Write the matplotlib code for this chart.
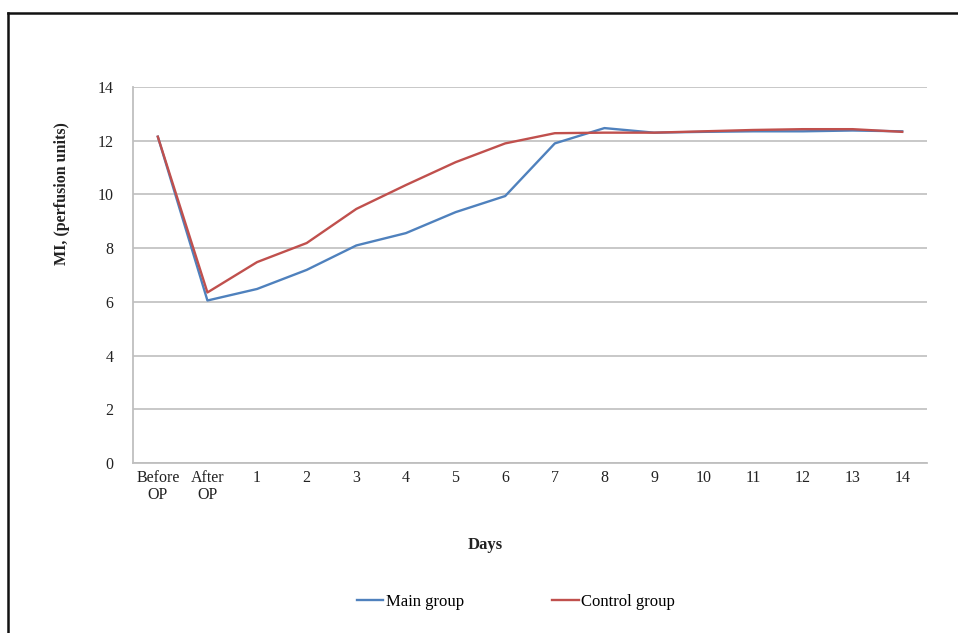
import matplotlib.pyplot as plt
from matplotlib.lines import Line2D

categories = ["Before\nOP", "After\nOP", "1", "2", "3", "4", "5", "6", "7",
              "8", "9", "10", "11", "12", "13", "14"]
main_group = [12.15, 6.05, 6.48, 7.19, 8.10, 8.56, 9.34, 9.94, 11.90,
              12.47, 12.30, 12.33, 12.35, 12.35, 12.38, 12.35]
control_group = [12.15, 6.35, 7.48, 8.19, 9.46, 10.35, 11.20, 11.90, 12.28,
                 12.30, 12.30, 12.35, 12.40, 12.43, 12.43, 12.33]
y_ticks = [0, 2, 4, 6, 8, 10, 12, 14]

plt.rcParams["font.family"] = ["Liberation Serif", "DejaVu Serif"]

W, H = 958, 633
fig = plt.figure(figsize=(W / 100, H / 100), dpi=100)
ax = fig.add_axes([133 / W, 1 - 463 / H, (927 - 133) / W, (463 - 87) / H])

x = list(range(len(categories)))
ax.plot(x, main_group, color="#4f81bd", linewidth=1.7, label="Main group")
ax.plot(x, control_group, color="#c0504d", linewidth=1.7, label="Control group")

ax.set_xlim(-0.5, len(categories) - 0.5)
ax.set_ylim(0, 14)
ax.set_yticks(y_ticks)
ax.set_xticks(x)
ax.set_xticklabels(categories)
ax.tick_params(axis="y", labelsize=11.5, length=0, pad=14)
ax.tick_params(axis="x", labelsize=11.5, length=0, pad=5)
for lab in ax.get_xticklabels() + ax.get_yticklabels():
    lab.set_color("#222222")
    lab.set_linespacing(1.05)

ax.grid(axis="y", color="#c4c4c4", linewidth=1.3)
ax.set_axisbelow(True)
for side in ["top", "right"]:
    ax.spines[side].set_visible(False)
for side in ["left", "bottom"]:
    ax.spines[side].set_color("#bfbfbf")
    ax.spines[side].set_linewidth(1.3)

fig.text(62 / W, 1 - 194 / H, "MI, (perfusion units)", rotation=90,
         ha="center", va="center", fontsize=11.5, fontweight="bold",
         color="#222222")
fig.text(485 / W, 1 - 545 / H, "Days", ha="center", va="center",
         fontsize=12, fontweight="bold", color="#222222")

fig.legend(loc="center", bbox_to_anchor=(516 / W, 1 - 602 / H), ncol=2,
           frameon=False, fontsize=12, handlelength=1.6, handletextpad=0.15,
           columnspacing=5.3)

# outer frame of the original figure
fig.add_artist(Line2D([8 / W, 1.0], [1 - 13 / H, 1 - 13 / H],
                      color="#111111", linewidth=1.8, transform=fig.transFigure))
fig.add_artist(Line2D([8 / W, 8 / W], [0.0, 1 - 13 / H],
                      color="#111111", linewidth=1.8, transform=fig.transFigure))

fig.savefig("out.png", dpi=100)
